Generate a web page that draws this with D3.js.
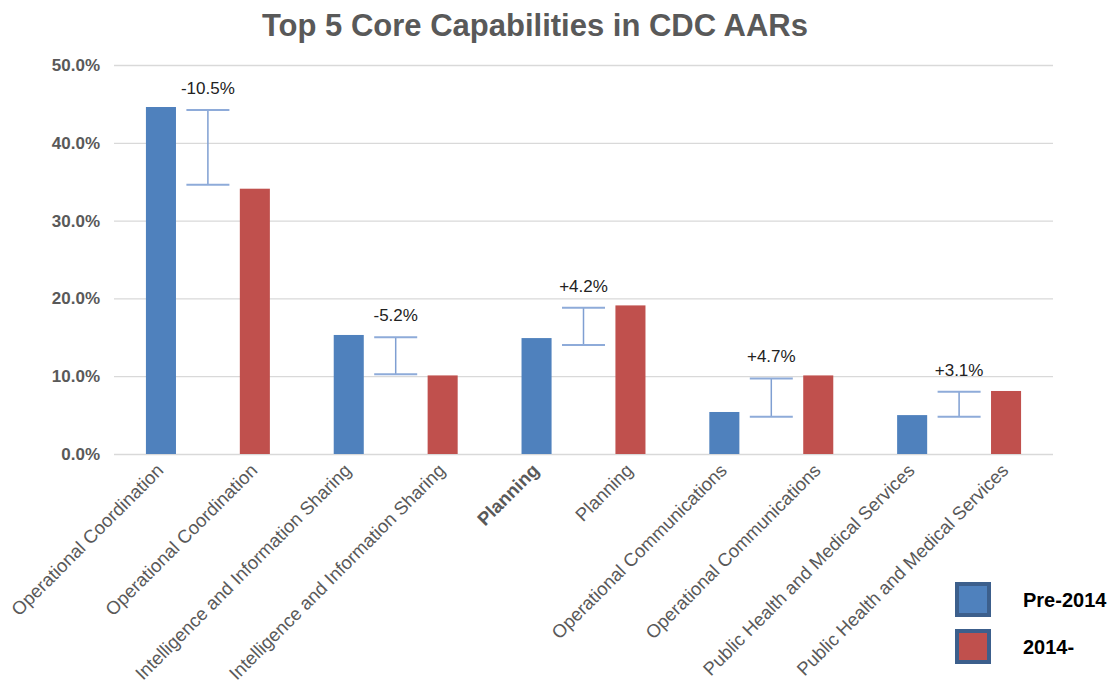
<!DOCTYPE html>
<html>
<head>
<meta charset="utf-8">
<script src="https://cdn.jsdelivr.net/npm/d3@7"></script>
<style>
  body { margin: 0; background: #fff; }
  svg { font-family: "Liberation Sans", Arial, sans-serif; }
</style>
</head>
<body>
<svg id="chart" width="1112" height="692"></svg>
<script>
// capabilities (each shown once for pre-2014 and once for 2014-)
let capabilities = ["Operational Coordination", "Intelligence and Information Sharing", "Planning",
  "Operational Communications", "Public Health and Medical Services"]
let pre2014 = [44.6, 15.3, 14.9, 5.4, 5.0]
let post2014 = [34.1, 10.1, 19.1, 10.1, 8.1]
// the change markers as drawn (top / bottom cap, in %)
let changeHigh = [44.2, 15.0, 18.8, 9.7, 8.0]
let changeLow = [34.6, 10.25, 14.0, 4.8, 4.8]
let yTicks = [0, 10, 20, 30, 40, 50]
let seriesNames = ["Pre-2014", "2014-"]
let colors = ["#4f81bd", "#c0504d"]

const svg = d3.select("#chart")
const plotLeft = 114, plotRight = 1053, plotTop = 65, plotBottom = 454

// one band per bar: pre, post, pre, post ...
let bars = []
capabilities.forEach((c, i) => {
  bars.push({ key: c + "|pre", name: c, value: pre2014[i], s: 0, i: i })
  bars.push({ key: c + "|post", name: c, value: post2014[i], s: 1, i: i })
})

const x = d3.scaleBand().domain(bars.map(d => d.key)).range([plotLeft, plotRight])
  .paddingInner(0.68).paddingOuter(0.34)
const y = d3.scaleLinear().domain([0, 50]).range([plotBottom, plotTop])

// title
svg.append("text")
  .attr("x", 535).attr("y", 36)
  .attr("text-anchor", "middle")
  .attr("font-size", 31).attr("font-weight", "bold")
  .attr("fill", "#595959")
  .text("Top 5 Core Capabilities in CDC AARs")

// grid + y axis
const yAxis = svg.append("g")
  .attr("transform", `translate(${plotLeft},0)`)
  .call(d3.axisLeft(y).tickValues(yTicks).tickSize(-(plotRight - plotLeft)).tickFormat(d => d.toFixed(1) + "%").tickPadding(14))
yAxis.select(".domain").remove()
yAxis.selectAll(".tick line").attr("stroke", "#d9d9d9").attr("stroke-width", 1.3)
yAxis.selectAll(".tick text")
  .attr("font-size", 17).attr("font-weight", "bold")
  .attr("fill", "#595959").attr("font-family", "Liberation Sans, Arial, sans-serif")

// bars
svg.append("g").selectAll("rect")
  .data(bars)
  .join("rect")
  .attr("x", d => x(d.key))
  .attr("width", x.bandwidth())
  .attr("y", d => y(d.value))
  .attr("height", d => y(0) - y(d.value))
  .attr("fill", d => colors[d.s])

// category labels
svg.append("g").selectAll("text")
  .data(bars)
  .join("text")
  .attr("transform", d => `translate(${x(d.key) + x.bandwidth() / 2 - 1},467) rotate(-45)`)
  .attr("text-anchor", "end")
  .attr("dy", "0.35em")
  .attr("font-size", 18.5)
  .attr("font-weight", (d, j) => j == 4 ? "bold" : "normal")
  .attr("fill", "#595959")
  .text(d => d.name)

// change markers between each pair
const capW = 43
const changes = capabilities.map((c, i) => {
  let cx = (x(c + "|pre") + x(c + "|post") + x.bandwidth()) / 2
  let diff = post2014[i] - pre2014[i]
  return { cx: cx, hi: changeHigh[i], lo: changeLow[i], label: (diff > 0 ? "+" : "") + diff.toFixed(1) + "%" }
})
const ch = svg.append("g").selectAll("g").data(changes).join("g")
ch.append("line")
  .attr("x1", d => d.cx).attr("x2", d => d.cx)
  .attr("y1", d => y(d.hi)).attr("y2", d => y(d.lo))
  .attr("stroke", "#7f9fd2").attr("stroke-width", 1.5)
ch.selectAll(".cap").data(d => [{ cx: d.cx, v: d.hi }, { cx: d.cx, v: d.lo }]).join("line")
  .attr("class", "cap")
  .attr("x1", d => d.cx - capW / 2).attr("x2", d => d.cx + capW / 2)
  .attr("y1", d => y(d.v)).attr("y2", d => y(d.v))
  .attr("stroke", "#8eabd9").attr("stroke-width", 2)
ch.append("text")
  .attr("x", d => d.cx)
  .attr("y", d => y(d.hi) - 22)
  .attr("dy", "0.35em")
  .attr("text-anchor", "middle")
  .attr("font-size", 17)
  .attr("fill", "#222")
  .text(d => d.label)

// legend
const leg = svg.append("g").selectAll("g").data(seriesNames).join("g")
  .attr("transform", (d, i) => `translate(957,${584 + i * 47})`)
leg.append("rect")
  .attr("width", 32).attr("height", 31)
  .attr("fill", (d, i) => colors[i])
  .attr("stroke", "#3c5f8c").attr("stroke-width", 4)
leg.append("text")
  .attr("x", 66).attr("y", 16).attr("dy", "0.35em")
  .attr("font-size", 20).attr("font-weight", "bold")
  .attr("fill", "#000")
  .text(d => d)
</script>
</body>
</html>
